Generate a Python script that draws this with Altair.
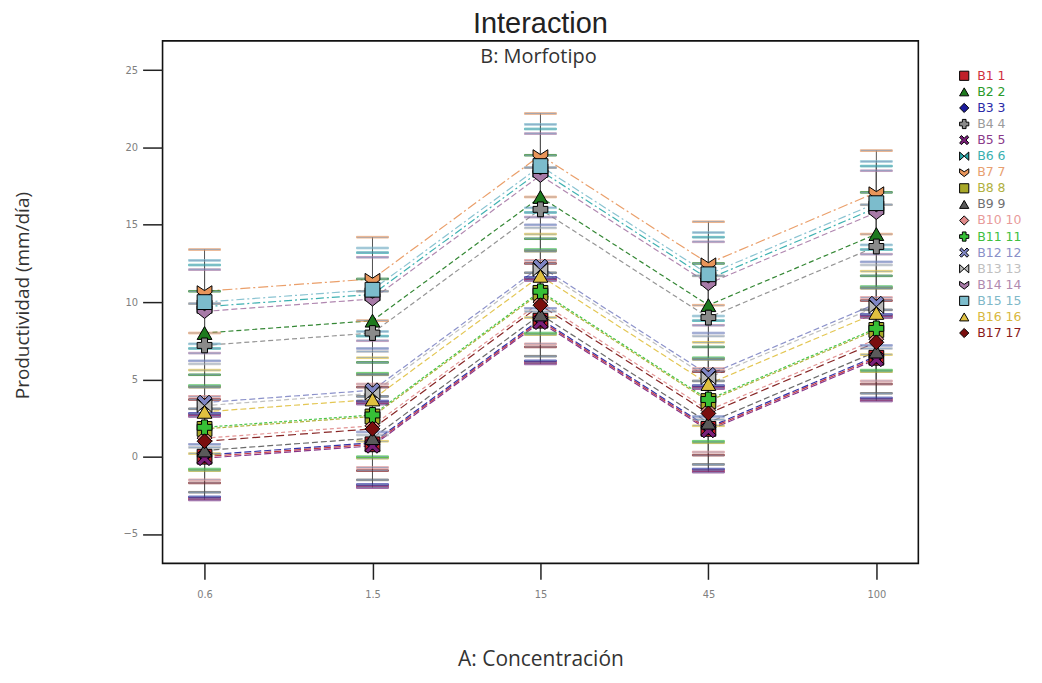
import altair as alt
import pandas as pd

# ---------------- data ----------------
conc = ["0.6", "1.5", "15", "45", "100"]
series = ["B1 1", "B2 2", "B3 3", "B4 4", "B5 5", "B6 6", "B7 7", "B8 8", "B9 9",
          "B10 10", "B11 11", "B12 12", "B13 13", "B14 14", "B15 15", "B16 16", "B17 17"]

b1 = [0.0, 0.8, 8.8, 1.8, 6.4]
b2 = [8.0, 8.8, 16.8, 9.8, 14.4]
b3 = [0.1, 0.9, 8.9, 1.9, 6.5]
b4 = [7.2, 8.0, 16.0, 9.0, 13.6]
b5 = [-0.1, 0.7, 8.7, 1.7, 6.3]
b6 = [9.7, 10.5, 18.5, 11.5, 16.1]
b7 = [10.7, 11.5, 19.5, 12.5, 17.1]
b8 = [1.8, 2.6, 10.6, 3.6, 8.2]
b9 = [0.4, 1.2, 9.2, 2.2, 6.8]
b10 = [1.2, 2.0, 10.0, 3.0, 7.6]
b11 = [1.9, 2.7, 10.7, 3.7, 8.3]
b12 = [3.5, 4.3, 12.3, 5.3, 9.9]
b13 = [3.3, 4.1, 12.1, 5.1, 9.7]
b14 = [9.4, 10.2, 18.2, 11.2, 15.8]
b15 = [10.0, 10.8, 18.8, 11.8, 16.4]
b16 = [2.9, 3.7, 11.7, 4.7, 9.3]
b17 = [1.0, 1.8, 9.8, 2.8, 7.4]
values = [b1, b2, b3, b4, b5, b6, b7, b8, b9, b10, b11, b12, b13, b14, b15, b16, b17]

half_lsd = 2.7  # half-width of the LSD bars

colors = ["#c0202a", "#1e7a1e", "#1c1c9c", "#8a8a8a", "#7a1f7a", "#2aa8a8", "#e8955a",
          "#a8a828", "#5a5a5a", "#e08a8a", "#36c036", "#7f86c4", "#b8b8b8", "#a77aa7",
          "#7cbccc", "#e0c040", "#7a0e0e"]
label_colors = ["#d03040", "#2a9a2a", "#2a2aa8", "#9a9a9a", "#8a3a8a", "#3ab0b0", "#e8a070",
                "#b0b040", "#707070", "#e89a9a", "#40c040", "#8a90c8", "#c0c0c0", "#b08ab0",
                "#80b8c8", "#d8b840", "#8a1a1a"]

chevron = "M-1,-0.75L0,-0.1L1,-0.75L1,0.15L0,0.95L-1,0.15Z"
xshape = "M-1,-0.6L-0.6,-1L0,-0.4L0.6,-1L1,-0.6L0.4,0L1,0.6L0.6,1L0,0.4L-0.6,1L-1,0.6L-0.4,0Z"
bowtie = "M-1,-0.9L0,0L-1,0.9Z M1,-0.9L0,0L1,0.9Z"
shapes = ["square", "triangle-up", "diamond", "cross", xshape, bowtie, chevron, "square",
          "triangle-up", "diamond", "cross", xshape, bowtie, chevron, "square",
          "triangle-up", "diamond"]
dashes = [[7, 3], [5, 3], [7, 3], [5, 3], [7, 3], [8, 3, 2, 3], [10, 3, 2, 3], [4, 2],
          [6, 3], [4, 3], [3, 2], [6, 3], [5, 3], [6, 3], [8, 3, 2, 3], [6, 3], [8, 4]]

rows = []
for s, vals in zip(series, values):
    for c, v in zip(conc, vals):
        rows.append({"series": s, "conc": c, "value": v,
                     "lo": v - half_lsd, "hi": v + half_lsd})
df = pd.DataFrame(rows)
legend_df = pd.DataFrame({"series": series})

W, H = 758, 524
FONT = "Open Sans"
TICKFONT = "Liberation Sans Narrow, DejaVu Sans Condensed, sans-serif"

x_scale = alt.Scale(type="point", padding=0.25)
y_scale = alt.Scale(domain=[-6.9, 26.9], nice=False, zero=False)


def x_axis():
    return alt.Axis(title="A: Concentración", labelAngle=0, tickSize=16, tickWidth=1.5,
                    tickColor="#222", labelPadding=9, labelFont=TICKFONT, labelFontSize=11,
                    labelColor="#808080", titleFont=FONT, titleFontSize=21,
                    titleFontWeight="normal", titleColor="#333", titleY=102,
                    titleBaseline="alphabetic", domain=False, grid=False)


def y_axis():
    return alt.Axis(title="Productividad (mm/día)", values=[-5, 0, 5, 10, 15, 20, 25],
                    tickSize=20, tickWidth=1.5, tickColor="#222", labelPadding=5,
                    labelFont=TICKFONT, labelFontSize=11, labelColor="#808080",
                    titleFont=FONT, titleFontSize=19, titleFontWeight="normal",
                    titleColor="#333", titleX=-134, titleY=255, titleBaseline="alphabetic",
                    domain=False, grid=False)


def X():
    return alt.X("conc:N", sort=conc, scale=x_scale, axis=x_axis())


def Y(field):
    return alt.Y(field, scale=y_scale, axis=y_axis())


def color_scale():
    return alt.Scale(domain=series, range=colors)


base = alt.Chart(df)

lines = base.mark_line(strokeWidth=1.2, opacity=0.9).encode(
    x=X(),
    y=Y("value:Q"),
    stroke=alt.Stroke("series:N", scale=color_scale(), legend=None),
    strokeDash=alt.StrokeDash("series:N", scale=alt.Scale(domain=series, range=dashes), legend=None),
    detail="series:N",
)

rules = base.mark_rule(strokeWidth=1, color="#555").encode(
    x=X(),
    y=Y("lo:Q"),
    y2="hi:Q",
)

caps_hi = base.mark_tick(size=32, thickness=1.6).encode(
    x=X(),
    y=Y("hi:Q"),
    stroke=alt.Stroke("series:N", scale=color_scale(), legend=None),
)
caps_lo = base.mark_tick(size=32, thickness=1.6).encode(
    x=X(),
    y=Y("lo:Q"),
    stroke=alt.Stroke("series:N", scale=color_scale(), legend=None),
)

points = base.mark_point(filled=True, stroke="black", strokeWidth=1, size=220, opacity=1).encode(
    x=X(),
    y=Y("value:Q"),
    fill=alt.Fill("series:N", scale=color_scale(), legend=None),
    shape=alt.Shape("series:N", scale=alt.Scale(domain=series, range=shapes), legend=None),
)

sub = alt.Chart(pd.DataFrame({"t": ["B: Morfotipo"]})).mark_text(
    font=FONT, fontSize=20, color="#333", baseline="middle", align="center"
).encode(x=alt.value(W / 2 - 2), y=alt.value(16), text="t:N")

main = alt.layer(lines, rules, caps_hi, caps_lo, points, sub).properties(
    width=W, height=H,
    view=alt.ViewBackground(stroke="#111", strokeWidth=1.6),
    title=alt.Title("Interaction", font="Liberation Sans", fontSize=29, fontWeight="normal",
                    color="#222", offset=2, anchor="middle"),
)

# manual legend (symbol + coloured label per morfotipo)
leg_y = alt.Y("series:N", sort=series, axis=None,
              scale=alt.Scale(type="point", domain=series, range=[35, 293], padding=0))
leg_sym = alt.Chart(legend_df).mark_point(filled=True, stroke="black", strokeWidth=1,
                                           size=85, opacity=1).encode(
    x=alt.value(16),
    y=leg_y,
    fill=alt.Fill("series:N", scale=color_scale(), legend=None),
    shape=alt.Shape("series:N", scale=alt.Scale(domain=series, range=shapes), legend=None),
)
leg_txt = alt.Chart(legend_df).mark_text(align="left", baseline="middle", font="DejaVu Sans",
                                         fontSize=12.5).encode(
    x=alt.value(29),
    y=leg_y,
    text="series:N",
    color=alt.Color("series:N", scale=alt.Scale(domain=series, range=label_colors), legend=None),
)
leg = alt.layer(leg_sym, leg_txt).properties(
    width=80, height=H, view=alt.ViewBackground(stroke="transparent"))

chart = alt.hconcat(main, leg, spacing=30, bounds="flush").properties(
    background="white",
    padding={"left": 5, "top": 0, "right": 5, "bottom": 0},
).configure_view(stroke="transparent")

chart.save("out.html", embed_options={"renderer": "svg", "actions": False})
